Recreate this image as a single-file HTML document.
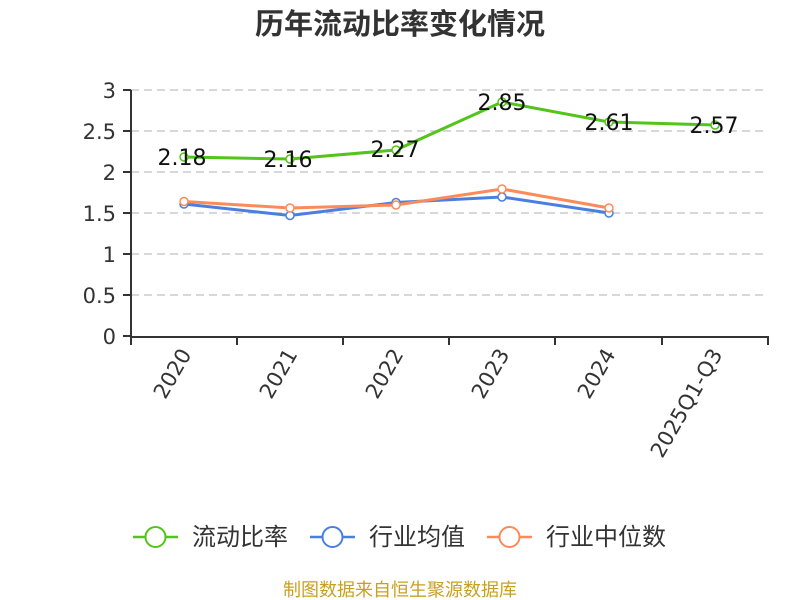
<!DOCTYPE html>
<html><head><meta charset="utf-8"><style>body{margin:0;background:#fff}svg{display:block}</style></head><body>
<svg width="800" height="600" xmlns="http://www.w3.org/2000/svg" font-family="'DejaVu Sans','Noto Sans CJK SC',sans-serif">
<text x="400" y="34" text-anchor="middle" font-size="29" font-weight="bold" fill="#333" font-family="'Noto Sans CJK SC',sans-serif">历年流动比率变化情况</text>
<g stroke="#ccc" stroke-dasharray="8,5" stroke-width="1.5">
<line x1="131" y1="90" x2="768" y2="90"/><line x1="131" y1="131" x2="768" y2="131"/><line x1="131" y1="172" x2="768" y2="172"/><line x1="131" y1="213" x2="768" y2="213"/><line x1="131" y1="254" x2="768" y2="254"/><line x1="131" y1="295" x2="768" y2="295"/>
</g>
<g stroke="#333" stroke-width="2">
<line x1="131" y1="90" x2="131" y2="337"/><line x1="130" y1="337" x2="769" y2="337"/>
<line x1="123" y1="90" x2="131" y2="90"/><line x1="123" y1="131" x2="131" y2="131"/><line x1="123" y1="172" x2="131" y2="172"/><line x1="123" y1="213" x2="131" y2="213"/><line x1="123" y1="254" x2="131" y2="254"/><line x1="123" y1="295" x2="131" y2="295"/><line x1="123" y1="336" x2="131" y2="336"/>
<line x1="131" y1="337" x2="131" y2="345"/><line x1="237" y1="337" x2="237" y2="345"/><line x1="343" y1="337" x2="343" y2="345"/><line x1="449" y1="337" x2="449" y2="345"/><line x1="555" y1="337" x2="555" y2="345"/><line x1="662" y1="337" x2="662" y2="345"/><line x1="768" y1="337" x2="768" y2="345"/>
</g>
<g font-size="21" fill="#333" text-anchor="end">
<text x="116" y="98">3</text><text x="116" y="139">2.5</text><text x="116" y="180">2</text><text x="116" y="221">1.5</text><text x="116" y="262">1</text><text x="116" y="303">0.5</text><text x="116" y="344">0</text>
<text transform="translate(192,354) rotate(-60)">2020</text>
<text transform="translate(298,354) rotate(-60)">2021</text>
<text transform="translate(404,354) rotate(-60)">2022</text>
<text transform="translate(510,354) rotate(-60)">2023</text>
<text transform="translate(616,354) rotate(-60)">2024</text>
<text transform="translate(723,354) rotate(-60)">2025Q1-Q3</text>
</g>
<g fill="none" stroke-width="3">
<polyline stroke="#4a7fe0" points="184,204 290,215.5 396,202.5 502,197 609,213"/>
<polyline stroke="#fc8b5c" points="184,201.5 290,208 396,205 502,189 609,208"/>
<polyline stroke="#52c41a" points="184,157 290,159 396,150 502,102 609,122 715,125"/>
</g>
<g fill="#fff" stroke-width="1.5">
<g stroke="#4a7fe0"><circle cx="184" cy="204" r="4"/><circle cx="290" cy="215.5" r="4"/><circle cx="396" cy="202.5" r="4"/><circle cx="502" cy="197" r="4"/><circle cx="609" cy="213" r="4"/></g>
<g stroke="#fc8b5c"><circle cx="184" cy="201.5" r="4"/><circle cx="290" cy="208" r="4"/><circle cx="396" cy="205" r="4"/><circle cx="502" cy="189" r="4"/><circle cx="609" cy="208" r="4"/></g>
<g stroke="#52c41a"><circle cx="184" cy="157" r="4"/><circle cx="290" cy="159" r="4"/><circle cx="396" cy="150" r="4"/><circle cx="502" cy="102" r="4"/><circle cx="609" cy="122" r="4"/><circle cx="715" cy="125" r="4"/></g>
</g>
<g font-size="22" fill="#111" text-anchor="middle">
<text x="182" y="165">2.18</text><text x="288" y="167">2.16</text><text x="395" y="157">2.27</text><text x="502" y="110">2.85</text><text x="609" y="130">2.61</text><text x="714" y="133">2.57</text>
</g>
<g font-size="24" fill="#333" font-family="'Noto Sans CJK SC',sans-serif">
<line x1="133" y1="537" x2="178" y2="537" stroke="#52c41a" stroke-width="2.5"/><circle cx="155.5" cy="537" r="10" fill="#fff" stroke="#52c41a" stroke-width="2"/><text x="192" y="545">流动比率</text>
<line x1="310" y1="537" x2="355" y2="537" stroke="#4a7fe0" stroke-width="2.5"/><circle cx="332.5" cy="537" r="10" fill="#fff" stroke="#4a7fe0" stroke-width="2"/><text x="369" y="545">行业均值</text>
<line x1="487" y1="537" x2="532" y2="537" stroke="#fc8b5c" stroke-width="2.5"/><circle cx="509.5" cy="537" r="10" fill="#fff" stroke="#fc8b5c" stroke-width="2"/><text x="546" y="545">行业中位数</text>
</g>
<text x="400" y="596" text-anchor="middle" font-size="18" fill="#c8a020" font-family="'Noto Sans CJK SC',sans-serif">制图数据来自恒生聚源数据库</text>
</svg>
</body></html>
